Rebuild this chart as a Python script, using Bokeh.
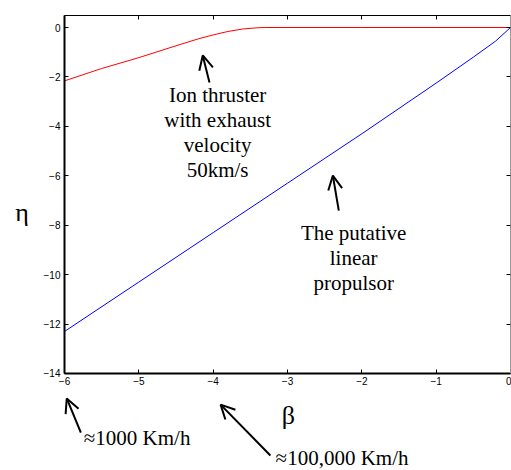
from bokeh.plotting import figure
from bokeh.models import LinearAxis, Label, Arrow, OpenHead, Range1d, FixedTicker
from bokeh.embed import file_html
from bokeh.resources import INLINE

# Data
beta_blue = [-6, -5, -4, -3, -2, -1, -0.5, -0.2, 0]
eta_blue = [-12.3, -10.3, -8.3, -6.3, -4.3, -2.25, -1.2, -0.55, 0]
beta_red = [-6, -5.5, -5, -4.5, -4.2, -4, -3.8, -3.6, -3.4, -3.3, -2, -1, 0]
eta_red = [-2.16, -1.66, -1.22, -0.74, -0.46, -0.30, -0.16, -0.06, -0.01, 0, 0, 0, 0]
x_ticks = [-6, -5, -4, -3, -2, -1, 0]
y_ticks = [0, -2, -4, -6, -8, -10, -12, -14]

ion_lines = ["Ion thruster", "with exhaust", "velocity", "50km/s"]
lin_lines = ["The putative", "linear", "propulsor"]

X_MIN, X_MAX = -6, 0
Y_MIN, Y_TOP = -14, 0.486

p = figure(width=511, height=470, output_backend="svg", toolbar_location=None,
           x_range=Range1d(-6.861, 0.0135), y_range=Range1d(-17.925, 1.0925),
           x_axis_location=None, y_axis_location=None,
           min_border_left=0, min_border_right=0, min_border_top=0, min_border_bottom=0)
p.grid.visible = False
p.outline_line_color = None
p.background_fill_color = "white"
p.border_fill_color = "white"

TICK_FONT = "Liberation Sans"
SERIF = "Liberation Serif"

def make_axis(ticks, loc, bounds, show_labels, lw, color="black"):
    ax = LinearAxis(ticker=FixedTicker(ticks=ticks), fixed_location=loc, bounds=bounds)
    ax.major_tick_in = 4
    ax.major_tick_out = 0
    ax.minor_tick_line_color = None
    ax.axis_line_width = lw
    ax.major_tick_line_width = 1
    ax.axis_line_color = color
    ax.major_tick_line_color = "black"
    ax.major_label_text_font = TICK_FONT
    ax.major_label_text_font_size = "10px"
    ax.major_label_text_color = "black"
    ax.major_label_standoff = 4
    if not show_labels:
        ax.major_label_text_color = None
    return ax

p.add_layout(make_axis(x_ticks, Y_MIN, (X_MIN, X_MAX), True, 2), "below")
p.add_layout(make_axis(y_ticks, X_MIN, (Y_MIN, Y_TOP), True, 2), "left")
p.add_layout(make_axis(x_ticks, Y_TOP, (X_MIN, X_MAX), False, 1), "above")
p.add_layout(make_axis(y_ticks, X_MAX, (Y_MIN, Y_TOP), False, 1, "#999999"), "right")

p.line(beta_red, eta_red, line_color="#ff0000", line_width=1)
p.line(beta_blue, eta_blue, line_color="#0000ff", line_width=1)

def add_lines(lines, x, y, align="center", size="21px"):
    for i, t in enumerate(lines):
        p.add_layout(Label(x=x, y=y, y_offset=-25 * i, text=t, text_align=align,
                           text_baseline="middle", text_font=SERIF,
                           text_font_size=size, text_color="black"))

add_lines(ion_lines, -3.94, -2.75)
add_lines(lin_lines, -2.11, -8.30)
add_lines(["\u22481000 Km/h"], -5.74, -16.59, align="left")
add_lines(["\u2248100,000 Km/h"], -3.16, -17.40, align="left")
add_lines(["\u03b2"], -2.99, -15.70, size="26px")
add_lines(["\u03b7"], -6.57, -7.49, size="26px")

arrows = [(-4.05, -2.23, -4.14, -1.13), (-2.31, -7.41, -2.39, -5.99),
          (-5.78, -16.39, -5.97, -15.01), (-3.23, -17.32, -3.90, -15.26)]
for xs, ys, xe, ye in arrows:
    p.add_layout(Arrow(x_start=xs, y_start=ys, x_end=xe, y_end=ye,
                       line_color="black", line_width=2,
                       end=OpenHead(size=14, line_width=2, line_color="black")))

open("out.html", "w").write(file_html(p, INLINE))
